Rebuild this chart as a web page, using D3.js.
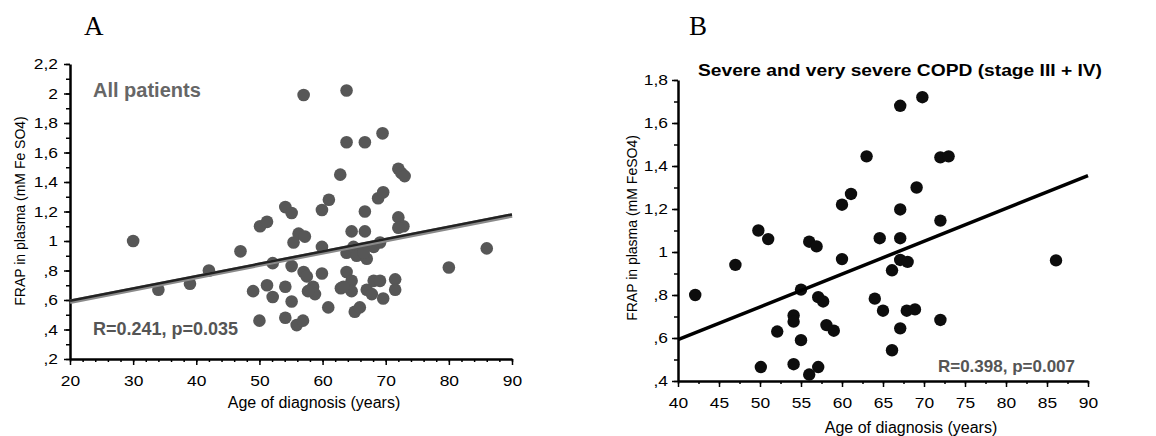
<!DOCTYPE html>
<html>
<head>
<meta charset="utf-8">
<script src="https://cdn.jsdelivr.net/npm/d3@7"></script>
<style>
  body { margin: 0; background: #fff; }
  svg text { font-family: "Liberation Sans", Arial, sans-serif; }
  .axis path, .axis line { stroke: #000; }
</style>
</head>
<body>
<div id="chart"></div>
<script>
// Panel A : all patients (age at diagnosis, FRAP)
var ageA = [30, 34, 39, 42, 47, 49, 50, 50.1, 51.2, 51.2, 52.1, 52.1, 54.1, 55.1, 54.1, 54.1, 55.1, 55.1,
  55.9, 56.9, 55.4, 56.2, 57.2, 57, 57.5, 58.5, 58.8, 57.7, 57, 59.9, 59.9, 60.9, 59.9, 61, 62.8, 63.8,
  63.8, 66.7, 69.5, 62.9, 63.8, 64.6, 64.6, 64.6, 66.7, 66.7, 63.8, 65.1, 65.9, 64.9, 65.4, 66.5, 67,
  68.1, 69.1, 67, 67.8, 68.1, 69.1, 69.6, 71.5, 71.5, 72, 72.8, 72, 72, 72.5, 73, 68.8, 69.6, 80, 86,
  63.3, 66.5];
var frapA = [1.0, 0.67, 0.71, 0.80, 0.93, 0.66, 0.46, 1.10, 1.13, 0.70, 0.85, 0.62, 1.23, 1.19, 0.69, 0.48,
  0.83, 0.59, 0.43, 0.46, 0.99, 1.05, 1.03, 0.79, 0.76, 0.69, 0.64, 0.66, 1.99, 0.96, 0.78, 0.55, 1.21,
  1.28, 1.45, 2.02, 1.67, 1.67, 1.73, 0.68, 0.79, 0.73, 0.66, 1.065, 1.065, 1.20, 0.92, 0.52, 0.55, 0.96,
  0.90, 0.94, 0.88, 0.96, 0.99, 0.67, 0.64, 0.73, 0.73, 0.61, 0.74, 0.67, 1.16, 1.10, 1.09, 1.49, 1.46,
  1.44, 1.29, 1.33, 0.82, 0.95, 0.69, 0.92];
var fitA = [[20, 0.595], [90, 1.18]];

// Panel B : severe and very severe COPD
var ageB = [42.1, 47, 49.8, 51, 50.1, 52.1, 54.1, 54.1, 54.1, 55, 55, 56, 56.9, 56, 57.1, 57.1, 57.7,
  58.1, 59, 60, 60, 61.1, 63, 67.1, 69.8, 69.1, 67.1, 72, 73, 72, 64.6, 67.1, 67.1, 68, 66.1, 64, 65,
  67.9, 68.9, 67.1, 66.1, 72, 86.1];
var frapB = [0.80, 0.94, 1.10, 1.06, 0.465, 0.63, 0.705, 0.676, 0.478, 0.59, 0.825, 1.048, 1.026, 0.43,
  0.465, 0.79, 0.77, 0.66, 0.634, 0.967, 1.22, 1.27, 1.445, 1.68, 1.72, 1.30, 1.198, 1.44, 1.445, 1.146,
  1.064, 1.064, 0.963, 0.954, 0.915, 0.783, 0.727, 0.727, 0.733, 0.645, 0.543, 0.684, 0.961];
var fitB = [[40, 0.592], [90, 1.355]];

var yTicksA = [0.2, 0.4, 0.6, 0.8, 1, 1.2, 1.4, 1.6, 1.8, 2, 2.2];
var xTicksA = [20, 30, 40, 50, 60, 70, 80, 90];
var yTicksB = [0.4, 0.6, 0.8, 1, 1.2, 1.4, 1.6, 1.8];
var xTicksB = [40, 45, 50, 55, 60, 65, 70, 75, 80, 85, 90];

var svg = d3.select("#chart").append("svg")
  .attr("width", 1156)
  .attr("height", 436);

function fmt(d) {
  var s = String(+d.toFixed(1));
  return s.replace(/^0\./, ".").replace(".", ",");
}

function range(a, b, step) {
  var out = [];
  for (var v = a; v <= b + 1e-9; v += step) out.push(+v.toFixed(2));
  return out;
}

// the original figure's lettering is a bit wider than Arial
function stretch(sel, k) {
  sel.each(function () {
    var w = this.getComputedTextLength();
    d3.select(this).attr("textLength", w * k).attr("lengthAdjust", "spacingAndGlyphs");
  });
}

function panel(cfg) {
  var x = d3.scaleLinear().domain(cfg.xDomain).range(cfg.xRange);
  var y = d3.scaleLinear().domain(cfg.yDomain).range(cfg.yRange);
  var g = svg.append("g");

  // minor ticks
  g.append("g").attr("class", "axis")
    .attr("transform", "translate(0," + cfg.yRange[0] + ")")
    .call(d3.axisBottom(x).tickValues(range(cfg.xDomain[0], cfg.xDomain[1], cfg.xMinor)).tickSize(3).tickSizeOuter(0).tickFormat(""))
    .call(a => a.select(".domain").remove())
    .selectAll("line").attr("stroke-width", 1.5);
  g.append("g").attr("class", "axis")
    .attr("transform", "translate(" + cfg.xRange[0] + ",0)")
    .call(d3.axisLeft(y).tickValues(range(cfg.yDomain[0], cfg.yDomain[1], 0.1)).tickSize(4).tickSizeOuter(0).tickFormat(""))
    .call(a => a.select(".domain").remove())
    .selectAll("line").attr("stroke-width", 1.5);

  // major axes
  var xAxis = g.append("g").attr("class", "axis")
    .attr("transform", "translate(0," + cfg.yRange[0] + ")")
    .call(d3.axisBottom(x).tickValues(cfg.xTicks).tickSize(6).tickSizeOuter(0).tickPadding(11));
  var yAxis = g.append("g").attr("class", "axis")
    .attr("transform", "translate(" + cfg.xRange[0] + ",0)")
    .call(d3.axisLeft(y).tickValues(cfg.yTicks).tickSize(6).tickSizeOuter(0).tickPadding(cfg.yPad).tickFormat(fmt));
  [xAxis, yAxis].forEach(function (a) {
    a.select(".domain").attr("stroke-width", 2.5);
    a.selectAll("line").attr("stroke-width", 1.5);
    a.selectAll("text").attr("fill", "#000").style("font-size", "14.5px")
      .style("font-family", "'Liberation Sans', Arial, sans-serif")
      .call(stretch, 1.2);
  });

  // points
  g.append("g").selectAll("circle")
    .data(cfg.ages).enter()
    .append("circle")
    .attr("cx", d => x(d))
    .attr("cy", (d, i) => y(cfg.frap[i]))
    .attr("r", cfg.r)
    .attr("fill", cfg.pointColor);

  // regression line
  var line = d3.line().x(d => x(d[0])).y(d => y(d[1]));
  if (cfg.lineUnder) {
    g.append("path").attr("d", line(cfg.fit))
      .attr("fill", "none").attr("stroke", cfg.lineUnder).attr("stroke-width", 4.5)
      .attr("transform", "translate(0,1)");
  }
  g.append("path").attr("d", line(cfg.fit))
    .attr("fill", "none").attr("stroke", cfg.lineColor).attr("stroke-width", cfg.lineWidth);

  // labels
  g.append("text")
    .attr("x", (cfg.xRange[0] + cfg.xRange[1]) / 2 + cfg.xLabelDx)
    .attr("y", cfg.xLabelY)
    .attr("text-anchor", "middle")
    .style("font-size", "16px")
    .text("Age of diagnosis (years)");
  g.append("text")
    .attr("transform", "translate(" + cfg.yLabelX + "," + cfg.yLabelCy + ") rotate(-90)")
    .attr("text-anchor", "middle")
    .style("font-size", "14px")
    .text(cfg.yLabel);
  g.append("text")
    .attr("x", cfg.letterX).attr("y", 35)
    .style("font-family", "'Liberation Serif', 'Times New Roman', serif")
    .style("font-size", "27px")
    .text(cfg.letter);
  return {x: x, y: y, g: g};
}

var A = panel({
  xDomain: [20, 90], xRange: [70, 512], yDomain: [0.2, 2.2], yRange: [359, 64],
  xTicks: xTicksA, yTicks: yTicksA, xMinor: 2, yPad: 6,
  ages: ageA, frap: frapA, r: 6.3, pointColor: "#575757",
  fit: fitA, lineColor: "#222", lineWidth: 2.5, lineUnder: "#8a8a8a",
  xLabelDx: 23, xLabelY: 408, yLabelX: 25, yLabelCy: 211,
  yLabel: "FRAP in plasma (mM Fe SO4)", letter: "A", letterX: 84
});
A.g.append("text")
  .attr("x", 93).attr("y", 97)
  .attr("fill", "#666")
  .style("font-size", "20px").style("font-weight", "bold")
  .text("All patients");
A.g.append("text")
  .attr("x", 93).attr("y", 335)
  .attr("fill", "#555")
  .style("font-size", "18px").style("font-weight", "bold")
  .text("R=0.241, p=0.035");

var B = panel({
  xDomain: [40, 90], xRange: [678, 1088], yDomain: [0.4, 1.8], yRange: [381, 80],
  xTicks: xTicksB, yTicks: yTicksB, xMinor: 2.5, yPad: 4,
  ages: ageB, frap: frapB, r: 6.2, pointColor: "#0d0d0d",
  fit: fitB, lineColor: "#000", lineWidth: 3.5, lineUnder: null,
  xLabelDx: 28, xLabelY: 433, yLabelX: 637, yLabelCy: 228,
  yLabel: "FRAP in plasma (mM FeSO4)", letter: "B", letterX: 689
});
B.g.append("text")
  .attr("x", 698).attr("y", 76)
  .attr("textLength", 404).attr("lengthAdjust", "spacingAndGlyphs")
  .style("font-size", "17px").style("font-weight", "bold")
  .text("Severe and very severe COPD (stage III + IV)");
B.g.append("text")
  .attr("x", 1075).attr("y", 372)
  .attr("text-anchor", "end")
  .attr("fill", "#555")
  .style("font-size", "17px").style("font-weight", "bold")
  .text("R=0.398, p=0.007");
</script>
</body>
</html>
